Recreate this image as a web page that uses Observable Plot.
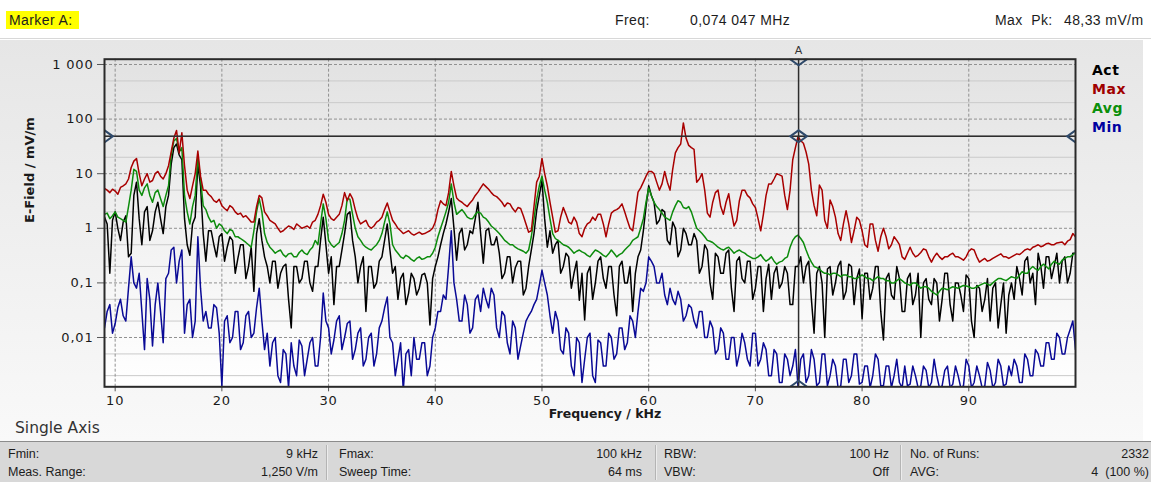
<!DOCTYPE html>
<html>
<head>
<meta charset="utf-8">
<script src="https://cdn.jsdelivr.net/npm/d3@7"></script>
<script src="https://cdn.jsdelivr.net/npm/@observablehq/plot@0.6"></script>
<style>
html,body{margin:0;padding:0;background:#fff;}
body{width:1151px;height:482px;position:relative;overflow:hidden;font-family:"Liberation Sans",Arial,sans-serif;color:#1c1c1c;}
.t{position:absolute;white-space:pre;line-height:16px;}
#hdr{position:absolute;left:0;top:0;width:1151px;height:38px;border-bottom:1px solid #d8d8d8;background:#fff}
#panel{position:absolute;left:0;top:40px;width:1143px;height:401px;background:linear-gradient(#e6e6e6,#f9f9f9)}
#chart{position:absolute;left:0;top:42px}
#foot{position:absolute;left:0;top:441px;width:1151px;height:41px;background:#d8d8d8;border-top:1px solid #8c8c8c}
.sep{position:absolute;top:445px;width:1px;height:35px;background:#b4b4b4;border-right:1px solid #ececec}
.h{font-size:14px;letter-spacing:0.4px;top:12px}
.f{font-size:12.5px}
.leg{position:absolute;left:1092px;font-family:"DejaVu Sans";font-weight:bold;font-size:14px;letter-spacing:0.5px;line-height:18px}
#mk{position:absolute;left:6px;top:11px;width:73px;height:18px;background:#ffff00}
#single{position:absolute;left:15px;top:419px;font-family:"DejaVu Sans";font-size:15.5px;color:#333;line-height:18px}
</style>
</head>
<body>
<div id="hdr"></div>
<div id="mk"></div>
<div class="t h" style="left:9px">Marker A:</div>
<div class="t h" style="left:615px">Freq:</div>
<div class="t h" style="left:690px">0,074 047 MHz</div>
<div class="t h" style="left:995px">Max  Pk:</div>
<div class="t h" style="left:1064px">48,33 mV/m</div>
<div id="panel"></div>
<div id="chart"></div>
<div class="leg" style="top:61px;color:#000">Act</div>
<div class="leg" style="top:80px;color:#a00000">Max</div>
<div class="leg" style="top:99px;color:#0a8f0a">Avg</div>
<div class="leg" style="top:118px;color:#0000a0">Min</div>
<div id="single">Single Axis</div>
<div id="foot"></div>
<div class="sep" style="left:326px"></div>
<div class="sep" style="left:655px"></div>
<div class="sep" style="left:900px"></div>
<div class="t f" style="left:8px;top:446px">Fmin:</div>
<div class="t f" style="right:833px;top:446px">9 kHz</div>
<div class="t f" style="left:339px;top:446px">Fmax:</div>
<div class="t f" style="right:509px;top:446px">100 kHz</div>
<div class="t f" style="left:664px;top:446px">RBW:</div>
<div class="t f" style="right:262px;top:446px">100 Hz</div>
<div class="t f" style="left:910px;top:446px">No. of Runs:</div>
<div class="t f" style="right:2px;top:446px">2332</div>
<div class="t f" style="left:8px;top:464px">Meas. Range:</div>
<div class="t f" style="right:833px;top:464px">1,250 V/m</div>
<div class="t f" style="left:339px;top:464px">Sweep Time:</div>
<div class="t f" style="right:509px;top:464px">64 ms</div>
<div class="t f" style="left:664px;top:464px">VBW:</div>
<div class="t f" style="right:262px;top:464px">Off</div>
<div class="t f" style="left:910px;top:464px">AVG:</div>
<div class="t f" style="right:2px;top:464px">4  (100 %)</div>
<script>
// Frequency bins (kHz)
const freq = [
9,9.25,9.5,9.75,10,10.25,10.5,10.75,11,11.25,11.5,11.75,12,12.25,12.5,12.75,13,13.25,13.5,13.75,
14,14.25,14.5,14.75,15,15.25,15.5,15.75,16,16.25,16.5,16.75,17,17.25,17.5,17.75,18,18.25,18.5,18.75,
19,19.25,19.5,19.75,20,20.25,20.5,20.75,21,21.25,21.5,21.75,22,22.25,22.5,22.75,23,23.25,23.5,23.75,
24,24.25,24.5,24.75,25,25.25,25.5,25.75,26,26.25,26.5,26.75,27,27.25,27.5,27.75,28,28.25,28.5,28.75,
29,29.25,29.5,29.75,30,30.25,30.5,30.75,31,31.25,31.5,31.75,32,32.25,32.5,32.75,33,33.25,33.5,33.75,
34,34.25,34.5,34.75,35,35.25,35.5,35.75,36,36.25,36.5,36.75,37,37.25,37.5,37.75,38,38.25,38.5,38.75,
39,39.25,39.5,39.75,40,40.25,40.5,40.75,41,41.25,41.5,41.75,42,42.25,42.5,42.75,43,43.25,43.5,43.75,
44,44.25,44.5,44.75,45,45.25,45.5,45.75,46,46.25,46.5,46.75,47,47.25,47.5,47.75,48,48.25,48.5,48.75,
49,49.25,49.5,49.75,50,50.25,50.5,50.75,51,51.25,51.5,51.75,52,52.25,52.5,52.75,53,53.25,53.5,53.75,
54,54.25,54.5,54.75,55,55.25,55.5,55.75,56,56.25,56.5,56.75,57,57.25,57.5,57.75,58,58.25,58.5,58.75,
59,59.25,59.5,59.75,60,60.25,60.5,60.75,61,61.25,61.5,61.75,62,62.25,62.5,62.75,63,63.25,63.5,63.75,
64,64.25,64.5,64.75,65,65.25,65.5,65.75,66,66.25,66.5,66.75,67,67.25,67.5,67.75,68,68.25,68.5,68.75,
69,69.25,69.5,69.75,70,70.25,70.5,70.75,71,71.25,71.5,71.75,72,72.25,72.5,72.75,73,73.25,73.5,73.75,
74,74.25,74.5,74.75,75,75.25,75.5,75.75,76,76.25,76.5,76.75,77,77.25,77.5,77.75,78,78.25,78.5,78.75,
79,79.25,79.5,79.75,80,80.25,80.5,80.75,81,81.25,81.5,81.75,82,82.25,82.5,82.75,83,83.25,83.5,83.75,
84,84.25,84.5,84.75,85,85.25,85.5,85.75,86,86.25,86.5,86.75,87,87.25,87.5,87.75,88,88.25,88.5,88.75,
89,89.25,89.5,89.75,90,90.25,90.5,90.75,91,91.25,91.5,91.75,92,92.25,92.5,92.75,93,93.25,93.5,93.75,
94,94.25,94.5,94.75,95,95.25,95.5,95.75,96,96.25,96.5,96.75,97,97.25,97.5,97.75,98,98.25,98.5,98.75,
99,99.25,99.5,99.75,100];

// E-Field (mV/m), Max trace
const maxTrace = [
5.4,5.0,4.5,5.2,4.8,4.2,5.6,6.0,6.5,8,13,17,19,10,6,8,10,7,7.5,10,
11,9,8,10,14,25,45,62,24,56,14,5,3.5,6,10,26,9,5,5,4.2,
3.8,3.2,3.0,3.4,2.6,2.3,2.1,2.6,2.4,2.0,1.8,1.9,1.6,1.7,1.5,1.3,1.3,2.5,4.0,3.6,
2.0,1.7,1.4,1.3,1.2,1.0,0.85,0.9,1.0,1.1,1.05,0.95,1.2,1.1,1.0,1.05,1.1,1.0,1.3,1.4,
1.8,2.6,4.2,3.0,1.8,1.5,1.4,1.6,1.8,2.6,4.5,3.2,4.3,3.5,2.2,1.5,1.2,1.3,1.4,1.1,
1.0,1.1,1.3,1.4,1.6,2.2,2.9,2.0,1.4,1.2,1.0,0.9,0.8,0.85,0.9,0.8,0.75,0.8,0.85,0.78,
0.8,0.85,0.9,1.0,1.3,2.2,3.2,2.8,2.6,4.5,11,6,3.6,3.2,3.0,2.7,2.5,2.9,3.3,4.0,
4.6,5.5,6.5,5.8,5.2,4.5,4.0,3.8,3.4,3.0,2.5,2.9,2.8,2.3,2.0,2.4,2.3,1.7,1.2,0.85,
0.9,2.5,7.0,9,19,10,6.0,3.0,1.6,0.85,0.9,1.6,2.4,1.8,1.3,1.2,1.6,1.3,0.8,0.7,
1.0,1.2,1.3,1.6,1.4,1.8,1.8,1.2,0.7,1.2,1.9,2.1,2.2,2.4,2.8,2.0,1.4,1.0,0.9,2.0,
4.6,5.5,7.0,9,11,11,10,7,5.0,6.5,11,7,5.0,12,24,30,35,85,45,33,
30,28,7.0,8,10,5,1.9,1.6,3.0,4.5,5.0,2.5,1.8,3.0,4.3,2.0,1.1,1.4,3.2,5,
5.0,4.0,3.6,2.8,2.4,1.5,0.9,1.8,4.0,6.5,6.5,8,10,9.5,9.0,4,2.2,5,18,30,
48,40,36,25,15,5,2.6,1.7,6.2,5,1.4,1.0,3.3,2.5,1.6,0.8,0.6,1.2,2.1,1.2,
0.55,0.9,1.6,1.4,0.9,0.5,0.45,1.2,1.2,0.6,0.38,0.7,1.0,0.7,0.42,0.5,0.7,0.6,0.5,0.3,
0.27,0.35,0.45,0.35,0.3,0.32,0.36,0.42,0.4,0.3,0.24,0.3,0.35,0.3,0.27,0.3,0.3,0.33,0.35,0.3,
0.3,0.28,0.26,0.3,0.38,0.42,0.4,0.3,0.24,0.26,0.28,0.25,0.26,0.28,0.3,0.32,0.34,0.3,0.3,0.28,
0.3,0.32,0.34,0.33,0.36,0.4,0.42,0.4,0.45,0.47,0.5,0.46,0.48,0.52,0.53,0.5,0.5,0.54,0.55,0.56,
0.5,0.58,0.62,0.8,0.7];

// Avg trace
const avgTrace = [
1.8,1.9,1.5,1.7,2.0,1.6,1.5,1.4,1.3,2.5,5.0,12,11,5,4.0,5.5,6.5,4,3.0,4.5,
5.0,3.5,2.5,4,6.0,22,40,44,25,30,4.0,2.0,1.2,2.5,4.0,20,8,2.6,2.2,1.6,
1.3,1.4,1.0,1.2,1.1,0.9,0.8,0.95,0.9,0.7,0.7,0.65,0.6,0.55,0.5,0.45,0.9,2.0,3.5,2.0,
0.8,0.55,0.45,0.4,0.35,0.38,0.4,0.33,0.3,0.34,0.35,0.3,0.3,0.36,0.4,0.35,0.33,0.4,0.45,0.6,
0.5,1.2,2.8,1.5,0.6,0.5,0.45,0.5,0.55,0.8,1.4,3.5,3.4,1.8,1.0,0.7,0.6,0.5,0.45,0.42,
0.4,0.45,0.5,0.6,0.8,1.3,2.0,1.2,0.5,0.4,0.35,0.3,0.28,0.32,0.3,0.27,0.25,0.28,0.3,0.27,
0.28,0.3,0.3,0.35,0.45,0.7,1.0,1.4,2.0,3.0,6.5,3.0,1.8,2.0,2.2,1.9,1.6,1.5,1.5,1.8,
2.0,1.9,1.6,1.5,1.3,1.1,1.0,0.9,0.8,0.7,0.6,0.55,0.5,0.5,0.45,0.42,0.4,0.38,0.35,0.4,
0.7,1.5,3.3,6,9.0,5,3.0,1.5,0.8,0.65,0.6,0.55,0.5,0.48,0.45,0.4,0.35,0.38,0.4,0.37,
0.35,0.32,0.3,0.35,0.4,0.38,0.35,0.32,0.3,0.34,0.4,0.35,0.3,0.33,0.35,0.4,0.45,0.5,0.6,0.65,
0.7,1.0,1.5,3.0,5.5,4.0,3.0,2.5,2.2,1.9,1.6,1.5,1.4,2.0,2.6,3.2,3.0,2.4,2.3,2.5,
2.0,1.4,1.0,0.9,0.8,0.7,0.6,0.58,0.55,0.5,0.45,0.42,0.4,0.43,0.45,0.4,0.35,0.38,0.4,0.37,
0.35,0.32,0.3,0.28,0.28,0.3,0.33,0.28,0.25,0.27,0.3,0.25,0.22,0.24,0.25,0.28,0.3,0.45,0.6,0.7,
0.75,0.65,0.55,0.4,0.3,0.24,0.2,0.19,0.18,0.16,0.15,0.15,0.14,0.15,0.15,0.14,0.13,0.14,0.14,0.13,
0.13,0.12,0.12,0.13,0.14,0.13,0.12,0.12,0.11,0.12,0.13,0.12,0.12,0.11,0.11,0.1,0.1,0.11,0.12,0.11,
0.1,0.095,0.09,0.1,0.1,0.09,0.08,0.085,0.085,0.08,0.07,0.065,0.06,0.07,0.08,0.078,0.075,0.08,0.085,0.082,
0.08,0.085,0.09,0.088,0.085,0.08,0.08,0.085,0.09,0.095,0.1,0.095,0.09,0.1,0.11,0.12,0.12,0.115,0.11,0.12,
0.13,0.125,0.12,0.14,0.16,0.15,0.15,0.18,0.2,0.18,0.17,0.2,0.22,0.2,0.18,0.22,0.25,0.23,0.22,0.26,
0.28,0.3,0.3,0.33,0.35];

// Act trace
const actTrace = [
1.6,1.2,0.15,1.4,2.0,1.0,0.6,1.3,1.7,0.3,0.35,4.0,7.0,1.5,0.5,2.0,2.5,0.6,0.9,2.0,
3.0,1.5,0.8,2.5,4.0,15,30,35,22,18,1.5,0.5,0.32,1.2,1.6,15,6.0,0.8,0.25,0.9,
0.9,0.5,0.3,0.7,0.8,0.25,0.45,0.7,0.6,0.15,0.28,0.5,0.5,0.12,0.2,0.45,0.07,0.8,1.5,0.6,
0.3,0.2,0.1,0.25,0.25,0.08,0.15,0.2,0.22,0.05,0.015,0.2,0.2,0.1,0.12,0.25,0.25,0.1,0.07,0.2,
0.2,0.6,1.6,0.5,0.15,0.3,0.04,0.2,0.2,0.4,0.8,1.8,2.0,0.6,0.3,0.1,0.2,0.3,0.03,0.2,
0.2,0.08,0.1,0.25,0.3,0.6,1.2,0.4,0.15,0.2,0.05,0.12,0.15,0.04,0.065,0.15,0.12,0.06,0.08,0.14,
0.15,0.1,0.017,0.12,0.2,0.3,0.5,0.8,1.2,2.0,3.5,1.0,0.26,0.8,1.0,0.4,0.5,0.9,0.8,1.5,
3.0,0.8,0.23,0.9,1.0,0.5,0.5,0.7,0.35,0.12,0.15,0.3,0.3,0.1,0.19,0.25,0.25,0.06,0.08,0.2,
0.4,0.8,2.1,4,7.5,1.5,0.45,0.9,0.35,0.5,0.6,0.15,0.2,0.35,0.3,0.08,0.15,0.25,0.048,0.15,
0.021,0.15,0.2,0.05,0.1,0.25,0.3,0.12,0.08,0.2,0.2,0.06,0.025,0.2,0.25,0.1,0.1,0.2,0.03,0.15,
0.3,0.4,0.9,2.5,6.0,4,3.0,1.2,1.4,2.2,2.0,0.6,0.5,1.3,1.0,0.3,0.4,1.0,0.8,0.5,
0.5,0.8,0.6,0.15,0.2,0.5,0.4,0.1,0.05,0.35,0.3,0.15,0.15,0.35,0.4,0.08,0.03,0.25,0.3,0.12,
0.1,0.25,0.25,0.05,0.08,0.2,0.2,0.03,0.12,0.22,0.05,0.15,0.2,0.08,0.1,0.2,0.15,0.04,0.04,0.2,
0.2,0.3,0.1,0.2,0.25,0.05,0.012,0.15,0.2,0.1,0.01,0.18,0.2,0.06,0.1,0.2,0.25,0.05,0.07,0.22,
0.2,0.04,0.12,0.18,0.022,0.15,0.15,0.05,0.08,0.2,0.2,0.03,0.009,0.12,0.15,0.06,0.05,0.2,0.12,0.03,
0.03,0.12,0.15,0.04,0.06,0.15,0.01,0.1,0.12,0.05,0.04,0.12,0.1,0.02,0.05,0.15,0.15,0.04,0.02,0.1,
0.1,0.06,0.03,0.14,0.12,0.02,0.01,0.09,0.08,0.03,0.05,0.12,0.02,0.08,0.1,0.015,0.04,0.1,0.012,0.06,
0.1,0.05,0.2,0.12,0.06,0.25,0.3,0.1,0.15,0.04,0.35,0.2,0.08,0.3,0.3,0.12,0.2,0.35,0.1,0.25,
0.3,0.1,0.15,0.35,0.35];

// Min trace
const minTrace = [
0.015,0.03,0.04,0.012,0.018,0.035,0.05,0.025,0.02,0.08,0.3,0.1,0.08,0.15,0.03,0.006,0.12,0.05,0.007,0.04,
0.1,0.03,0.008,0.12,0.15,0.4,0.45,0.1,0.25,0.4,0.012,0.04,0.05,0.01,0.02,0.7,0.08,0.02,0.03,0.015,
0.015,0.04,0.035,0.012,0.0013,0.02,0.025,0.008,0.01,0.03,0.03,0.006,0.008,0.025,0.03,0.01,0.012,0.035,0.08,0.02,
0.006,0.012,0.003,0.008,0.01,0.002,0.0015,0.006,0.005,0.0012,0.008,0.003,0.002,0.009,0.007,0.002,0.004,0.008,0.01,0.003,
0.003,0.01,0.065,0.02,0.015,0.005,0.009,0.02,0.025,0.006,0.01,0.018,0.02,0.004,0.006,0.012,0.015,0.003,0.004,0.01,
0.012,0.003,0.005,0.015,0.02,0.035,0.055,0.01,0.008,0.002,0.004,0.008,0.0011,0.005,0.006,0.002,0.01,0.004,0.004,0.008,
0.008,0.002,0.003,0.01,0.015,0.03,0.03,0.06,0.05,0.2,0.9,0.1,0.05,0.02,0.02,0.06,0.04,0.012,0.015,0.05,
0.06,0.03,0.08,0.05,0.035,0.08,0.06,0.015,0.01,0.03,0.025,0.008,0.005,0.02,0.015,0.004,0.007,0.012,0.02,0.025,
0.03,0.04,0.05,0.09,0.17,0.1,0.06,0.025,0.012,0.03,0.02,0.006,0.005,0.015,0.012,0.003,0.002,0.01,0.008,0.0015,
0.004,0.01,0.012,0.002,0.0015,0.009,0.008,0.003,0.003,0.012,0.01,0.004,0.005,0.015,0.015,0.006,0.008,0.025,0.02,0.01,
0.03,0.08,0.07,0.1,0.3,0.25,0.2,0.1,0.1,0.15,0.06,0.04,0.08,0.05,0.04,0.07,0.05,0.02,0.025,0.04,
0.035,0.02,0.015,0.03,0.03,0.01,0.01,0.02,0.015,0.005,0.006,0.015,0.012,0.004,0.004,0.01,0.01,0.003,0.005,0.012,
0.008,0.004,0.003,0.012,0.012,0.003,0.004,0.008,0.006,0.002,0.002,0.006,0.005,0.0015,0.0015,0.005,0.004,0.002,0.003,0.006,
0.0012,0.004,0.005,0.0015,0.002,0.006,0.004,0.0013,0.0015,0.005,0.005,0.0013,0.002,0.004,0.003,0.0012,0.0013,0.004,0.004,0.0015,
0.002,0.005,0.005,0.0014,0.0015,0.003,0.003,0.0012,0.002,0.005,0.004,0.0013,0.0013,0.003,0.003,0.0012,0.002,0.004,0.0015,0.0012,
0.003,0.0013,0.0014,0.003,0.002,0.0012,0.0013,0.003,0.0025,0.0012,0.0015,0.004,0.002,0.0012,0.0013,0.0025,0.003,0.0012,0.0014,0.003,
0.002,0.0012,0.0013,0.004,0.003,0.0012,0.0015,0.003,0.002,0.0012,0.0013,0.0035,0.0025,0.0012,0.0015,0.004,0.003,0.0013,0.0014,0.003,
0.002,0.004,0.003,0.0015,0.0015,0.005,0.004,0.002,0.002,0.006,0.005,0.003,0.003,0.008,0.008,0.004,0.004,0.012,0.01,0.005,
0.005,0.01,0.014,0.02,0.006];

const seriesNames = ["Min","Act","Avg","Max"];
const seriesColors = ["#0a0a96","#000000","#0c8c0c","#a80000"];
const seriesValues = [minTrace, actTrace, avgTrace, maxTrace];

const xDomain = [9, 100];
const yDomain = [0.00125, 1250];
const xTicks = [10,20,30,40,50,60,70,80,90];
const yTicks = [1000,100,10,1,0.1,0.01];
const yTickLabels = ["1 000","100","10","1","0,1","0,01"];
const yMinor = [500,200,50,20,5,2,0.5,0.2,0.05,0.02,0.005,0.002];
const markerFreq = 74.047;
const markerLevel = 48.33;

const wideDiamond = {
  draw(ctx, size) {
    const r = Math.sqrt(size / Math.PI);
    const w = r * 1.4, h = r;
    ctx.moveTo(-w, 0); ctx.lineTo(0, -h); ctx.lineTo(w, 0); ctx.lineTo(0, h); ctx.closePath();
  }
};

const lineMarks = seriesNames.map((name, k) =>
  Plot.line(freq.map((f, i) => ({f, v: seriesValues[k][i]})),
    {x: "f", y: "v", stroke: seriesColors[k], strokeWidth: 1.5, strokeLinejoin: "round", clip: true})
);

const markerPts = [
  {f: markerFreq, v: markerLevel},
  {f: markerFreq, v: yDomain[1]},
  {f: markerFreq, v: yDomain[0]},
  {f: xDomain[0], v: markerLevel},
  {f: xDomain[1], v: markerLevel}
];

const svg = Plot.plot({
  width: 1151, height: 396,
  marginLeft: 104, marginRight: 76, marginTop: 16.7, marginBottom: 51.7,
  style: {background: "transparent", fontFamily: "DejaVu Sans", fontSize: "13px", color: "#1a1a1a", overflow: "visible"},
  x: {domain: xDomain, axis: null, label: null},
  y: {type: "log", domain: yDomain, axis: null, label: null},
  marks: [
    Plot.frame({fill: "url(#plotbg)", stroke: "none"}),
    Plot.ruleY(yMinor, {stroke: "#cacaca", strokeWidth: 1}),
    Plot.gridY(yTicks, {stroke: "#909090", strokeOpacity: 1, strokeDasharray: "3,2"}),
    Plot.gridX(xTicks, {stroke: "#909090", strokeOpacity: 1, strokeDasharray: "3,2"}),
    ...lineMarks,
    Plot.ruleX([markerFreq], {stroke: "#2d2d2d", strokeWidth: 1.5}),
    Plot.ruleY([markerLevel], {stroke: "#2d2d2d", strokeWidth: 1.5}),
    Plot.dot(markerPts, {x: "f", y: "v", symbol: wideDiamond, r: 6, stroke: "#2f4a6b", strokeWidth: 2, fill: "none", clip: true}),
    Plot.text([{f: markerFreq, v: yDomain[1], t: "A"}], {x: "f", y: "v", text: "t", dy: -9, fontSize: 11, fill: "#333"}),
    Plot.axisY(yTicks, {tickFormat: d => yTickLabels[yTicks.indexOf(d)], tickSize: 7, tickPadding: 4, fontSize: 13, stroke: "#555", label: null}),
    Plot.axisX(xTicks, {tickSize: 5, tickPadding: 4, fontSize: 13, stroke: "#555", label: null}),
    Plot.text(["E-Field / mV/m"], {frameAnchor: "left", rotate: -90, dx: -75, fontWeight: "bold", fontSize: 13, fill: "#1a1a1a"}),
    Plot.text(["Frequency / kHz"], {frameAnchor: "bottom", dx: 15, dy: 31, fontWeight: "bold", fontSize: 12.5, fill: "#1a1a1a"}),
    Plot.frame({stroke: "#2a2a2a", strokeWidth: 2})
  ]
});

const ns = "http://www.w3.org/2000/svg";
const defs = document.createElementNS(ns, "defs");
defs.innerHTML = '<linearGradient id="plotbg" x1="0" y1="0" x2="0" y2="1"><stop offset="0" stop-color="#e2e2e2"/><stop offset="0.85" stop-color="#fbfbfb"/><stop offset="1" stop-color="#ffffff"/></linearGradient>';
svg.insertBefore(defs, svg.firstChild);
svg.querySelectorAll('[aria-label="y-axis tick label"] text, [aria-label="x-axis tick label"] text').forEach(t => t.style.letterSpacing = "0.8px");
document.getElementById("chart").appendChild(svg);
</script>
</body>
</html>
